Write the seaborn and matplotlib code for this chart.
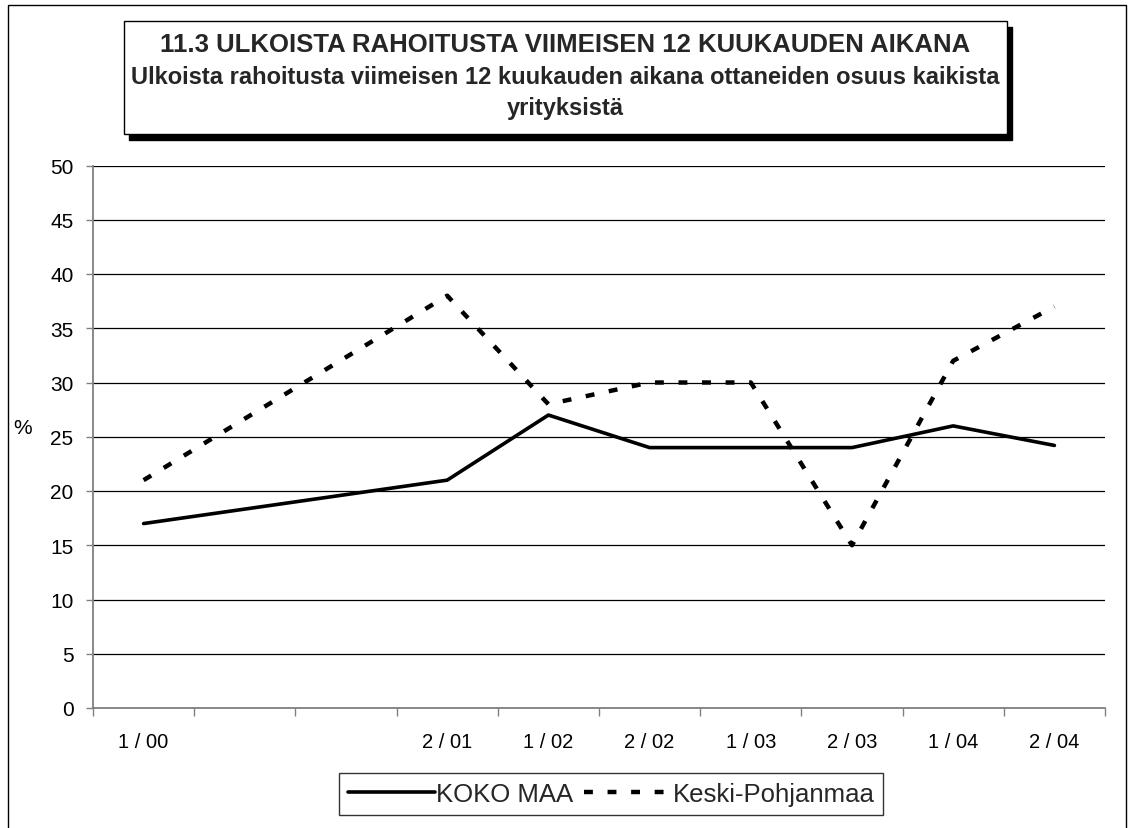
import numpy as np
import pandas as pd
import matplotlib
matplotlib.use("Agg")
import matplotlib.pyplot as plt
from matplotlib.patches import Rectangle
import seaborn as sns

# data (blank categories have no values)
periods = ["1 / 00", "", "", "2 / 01", "1 / 02", "2 / 02", "1 / 03", "2 / 03", "1 / 04", "2 / 04"]
koko_maa = [17, np.nan, np.nan, 21, 27, 24, 24, 24, 26, 24.2]
keski_pohjanmaa = [21, np.nan, np.nan, 38, 28, 30, 30, 15, 32, 37]
series_names = ["KOKO MAA", "Keski-Pohjanmaa"]

title_1 = "11.3 ULKOISTA RAHOITUSTA VIIMEISEN 12 KUUKAUDEN AIKANA"
title_2 = "Ulkoista rahoitusta viimeisen 12 kuukauden aikana ottaneiden osuus kaikista"
title_3 = "yrityksistä"

df = pd.DataFrame({
    "pos": list(range(len(periods))) * 2,
    "value": koko_maa + keski_pohjanmaa,
    "series": [series_names[0]] * len(periods) + [series_names[1]] * len(periods),
})
df = df.dropna()

sns.set_theme(style="white")
plt.rcParams["font.family"] = ["Liberation Sans", "DejaVu Sans"]

W, H = 1133, 829
fig = plt.figure(figsize=(W / 100, H / 100), dpi=100)
ax = fig.add_axes([93 / W, 1 - 709 / H, 1012 / W, (709 - 166.5) / H])

sns.lineplot(data=df, x="pos", y="value", hue="series", style="series",
             palette={series_names[0]: "black", series_names[1]: "black"},
             dashes={series_names[0]: "", series_names[1]: (2, 3.3)},
             legend=False, ax=ax, estimator=None)
ax.lines[0].set_linewidth(2.6)
ax.lines[1].set_linewidth(3.2)

ax.set_xlim(-0.5, len(periods) - 0.5)
ax.set_ylim(0, 50)
ax.set_yticks(range(0, 51, 5))
ax.set_xticks(range(len(periods)))
ax.set_xticklabels(periods)
ax.set_xticks(np.arange(-0.5, len(periods), 1), minor=True)
ax.tick_params(axis="x", which="major", length=0, pad=17, labelsize=14.5, colors="black")
ax.tick_params(axis="x", which="minor", length=6, width=1, color="#808080", direction="out", bottom=True)
ax.tick_params(axis="y", length=5, width=1, color="#808080", direction="out", left=True,
               pad=9, labelsize=15, labelcolor="black")

ax.yaxis.grid(True, color="black", linewidth=0.9)
ax.set_axisbelow(True)
for side in ["top", "right"]:
    ax.spines[side].set_visible(False)
for side in ["left", "bottom"]:
    ax.spines[side].set_color("#808080")
    ax.spines[side].set_linewidth(1.3)

ax.set_xlabel("")
ax.set_ylabel("%", rotation=0, fontsize=15, color="black")
ax.yaxis.set_label_coords(-0.07, 0.5)

# outer chart border
fig.patches.append(Rectangle((7.5 / W, -0.02), (1126 - 7.5) / W, 1.02 - 5.5 / H,
                             transform=fig.transFigure, fill=False,
                             edgecolor="black", linewidth=1))

# title box with shadow
bx0, bx1, by0, by1 = 123.5, 1007, 21.5, 135
fig.patches.append(Rectangle(((bx0 + 5) / W, 1 - (by1 + 6) / H), (bx1 - bx0) / W, (by1 - by0) / H,
                             transform=fig.transFigure, facecolor="black", edgecolor="black"))
fig.patches.append(Rectangle((bx0 / W, 1 - by1 / H), (bx1 - bx0) / W, (by1 - by0) / H,
                             transform=fig.transFigure, facecolor="white",
                             edgecolor="black", linewidth=1))
cx = (bx0 + bx1) / 2 / W
fig.text(cx, 1 - 52.5 / H, title_1, ha="center", va="baseline", fontsize=18.5, fontweight="bold")
fig.text(cx, 1 - 84 / H, title_2, ha="center", va="baseline", fontsize=17, fontweight="bold")
fig.text(cx, 1 - 114.5 / H, title_3, ha="center", va="baseline", fontsize=17, fontweight="bold")

leg = fig.legend(handles=ax.lines[:2], labels=series_names, loc="center",
                 bbox_to_anchor=(611 / W, 1 - 795 / H), ncol=2, fontsize=18.5,
                 frameon=True, fancybox=False, shadow=False, handlelength=3.4,
                 handletextpad=0.05, columnspacing=0.4, borderpad=0.35)
leg.get_frame().set_edgecolor("black")
leg.get_frame().set_linewidth(1)

fig.savefig("out.png", dpi=100, facecolor="white")
